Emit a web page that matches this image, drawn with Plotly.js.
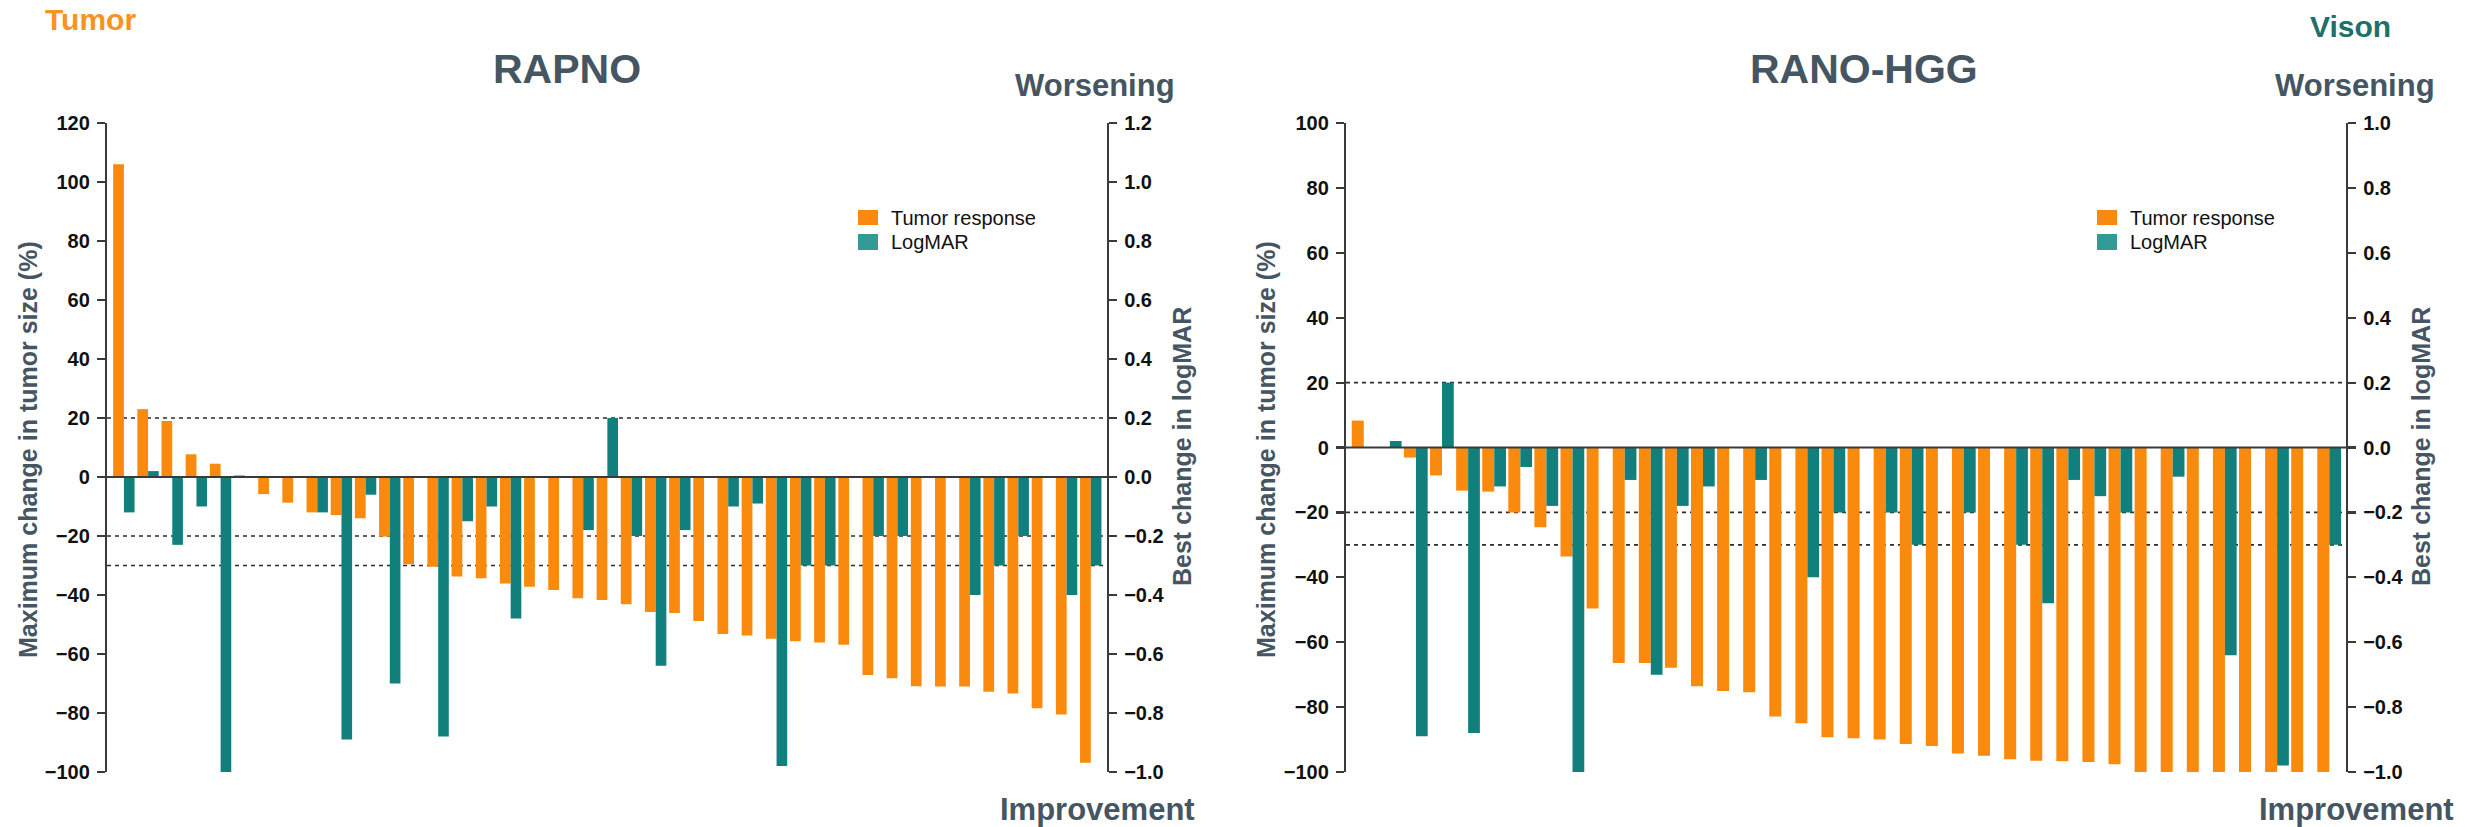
<!DOCTYPE html>
<html>
<head>
<meta charset="utf-8">
<script src="https://cdn.plot.ly/plotly-3.0.1.min.js"></script>
<style>
  html, body { margin: 0; padding: 0; background: #ffffff; }
  #chart { width: 2476px; height: 827px; }
</style>
</head>
<body>
<div id="chart"></div>
<script>
// ---------------- DATA ----------------
// RAPNO panel: maximum change in tumor size (%) and best change in logMAR, per patient
const rapnoTumor = [106, 23, 19, 7.7, 4.5, 0.6, -5.8, -8.7, -12, -12.9, -14, -20.2, -29.6, -30.4, -33.7,
  -34.3, -36.1, -37.2, -38.3, -41.1, -41.7, -43.1, -45.8, -46.1, -48.8, -53.2, -53.7, -54.8, -55.7,
  -56.1, -56.9, -67.1, -68.2, -70.9, -71, -71, -72.8, -73.4, -78.4, -80.5, -96.9];
const rapnoLogMAR = [-0.12, 0.02, -0.23, -0.10, -1.0, 0, 0, 0, -0.12, -0.89, -0.06, -0.70, 0, -0.88, -0.15,
  -0.10, -0.48, 0, 0, -0.18, 0.20, -0.20, -0.64, -0.18, 0, -0.10, -0.09, -0.98, -0.30,
  -0.30, 0, -0.20, -0.20, 0, 0, -0.40, -0.30, -0.20, 0, -0.40, -0.30];

// RANO-HGG panel
const ranoTumor = [8.3, 0, -3.1, -8.6, -13.3, -13.6, -20, -24.6, -33.6, -49.6, -66.4, -66.4, -67.9, -73.6,
  -75, -75.4, -82.9, -85, -89.3, -89.6, -90, -91.4, -92, -94.3, -95, -96.1, -96.5, -96.7, -96.9,
  -97.6, -100, -100, -100, -100, -100, -100, -100, -100];
const ranoLogMAR = [0, 0.02, -0.89, 0.20, -0.88, -0.12, -0.06, -0.18, -1.0, 0, -0.10, -0.70, -0.18, -0.12,
  0, -0.10, 0, -0.40, -0.20, 0, -0.20, -0.30, 0, -0.20, 0, -0.30, -0.48, -0.10, -0.15,
  -0.20, 0, -0.09, 0, -0.64, 0, -0.98, 0, -0.30];

// threshold reference lines (tumor %)
const thresholds = [20, -20, -30];

// tick values
const rapnoTicks = [120, 100, 80, 60, 40, 20, 0, -20, -40, -60, -80, -100];
const rapnoTicks2 = [1.2, 1.0, 0.8, 0.6, 0.4, 0.2, 0.0, -0.2, -0.4, -0.6, -0.8, -1.0];
const ranoTicks = [100, 80, 60, 40, 20, 0, -20, -40, -60, -80, -100];
const ranoTicks2 = [1.0, 0.8, 0.6, 0.4, 0.2, 0.0, -0.2, -0.4, -0.6, -0.8, -1.0];

const seriesNames = ["Tumor response", "LogMAR"];
const panelTitles = ["RAPNO", "RANO-HGG"];

// ---------------- STYLE ----------------
const W = 2476, H = 827;
const px = v => v / W;
const py = v => 1 - v / H;
const ORANGE = "#FA8A0D";
const TEAL = "#11807D";
const TEAL_LEG = "#339A96";
const SLATE = "#455562";
const AXC = "#3a3a3a";
const FONT = "Liberation Sans, Arial, Helvetica, sans-serif";

const rapnoX = rapnoTumor.map((_, i) => i);
const ranoX = ranoTumor.map((_, i) => i);

const traces = [
  { type: "bar", x: rapnoX, y: rapnoTumor, xaxis: "x", yaxis: "y", name: seriesNames[0],
    marker: { color: ORANGE }, width: 0.445, offset: -0.445, showlegend: false, hoverinfo: "y" },
  { type: "bar", x: rapnoX, y: rapnoLogMAR, xaxis: "x", yaxis: "y2", name: seriesNames[1],
    marker: { color: TEAL }, width: 0.44, offset: 0, showlegend: false, hoverinfo: "y" },
  { type: "bar", x: ranoX, y: ranoTumor, xaxis: "x2", yaxis: "y3", name: seriesNames[0],
    marker: { color: ORANGE }, width: 0.46, offset: -0.46, showlegend: false, hoverinfo: "y" },
  { type: "bar", x: ranoX, y: ranoLogMAR, xaxis: "x2", yaxis: "y4", name: seriesNames[1],
    marker: { color: TEAL }, width: 0.45, offset: 0, showlegend: false, hoverinfo: "y" }
];

const yDomain = [py(772), py(123)];
const baseY = {
  showgrid: false, zeroline: false, showline: true, linecolor: AXC, linewidth: 2.2,
  ticks: "outside", ticklen: 8, tickwidth: 2.2, tickcolor: AXC,
  tickfont: { family: FONT, size: 20, color: "#111", weight: "bold" },
  ticklabelstandoff: 3, domain: yDomain, fixedrange: true
};

const layout = {
  width: W, height: H,
  margin: { l: 0, r: 0, t: 0, b: 0 },
  paper_bgcolor: "#fff", plot_bgcolor: "rgba(0,0,0,0)",
  barmode: "overlay",
  showlegend: false,
  font: { family: FONT },
  xaxis: { domain: [px(107), px(1107)], range: [-0.7, rapnoTumor.length - 1 + 0.67], visible: false, fixedrange: true },
  xaxis2: { domain: [px(1346), px(2346)], range: [-0.68, ranoTumor.length - 1 + 0.64], visible: false, fixedrange: true },
  yaxis: Object.assign({}, baseY, { anchor: "x", side: "left", range: [-100, 120], tickvals: rapnoTicks }),
  yaxis2: Object.assign({}, baseY, { anchor: "x", side: "right", overlaying: "y", range: [-1.0, 1.2],
    tickvals: rapnoTicks2, tickformat: ".1f" }),
  yaxis3: Object.assign({}, baseY, { anchor: "x2", side: "left", range: [-100, 100], tickvals: ranoTicks }),
  yaxis4: Object.assign({}, baseY, { anchor: "x2", side: "right", overlaying: "y3", range: [-1.0, 1.0],
    tickvals: ranoTicks2, tickformat: ".1f" }),
  shapes: [],
  annotations: []
};

// reference lines (dashed) and zero lines
[["x", "y"], ["x2", "y3"]].forEach(([xa, ya]) => {
  thresholds.forEach(t => {
    layout.shapes.push({ type: "line", xref: xa + " domain", yref: ya, x0: 0, x1: 1, y0: t, y1: t,
      layer: "below", line: { color: "#2b2b2b", width: 1.6, dash: "4px,4px" } });
  });
  layout.shapes.push({ type: "line", xref: xa + " domain", yref: ya, x0: 0, x1: 1, y0: 0, y1: 0,
    layer: "above", line: { color: AXC, width: 2.2 } });
});

// manual legends
function addLegend(sqLeft) {
  const rows = [[210, 225, ORANGE, 217.5], [234, 250, TEAL_LEG, 242]];
  rows.forEach((r, i) => {
    layout.shapes.push({ type: "rect", xref: "paper", yref: "paper", x0: px(sqLeft), x1: px(sqLeft + 20),
      y0: py(r[1]), y1: py(r[0]), fillcolor: r[2], line: { width: 0 } });
    layout.annotations.push({ xref: "paper", yref: "paper", x: px(sqLeft + 31), y: py(r[3]),
      xanchor: "left", yanchor: "middle", showarrow: false, text: seriesNames[i],
      font: { family: FONT, size: 20, color: "#111" } });
  });
}
addLegend(858);
addLegend(2097);

function txt(text, x, y, size, color, angle) {
  layout.annotations.push({ xref: "paper", yref: "paper", x: px(x), y: py(y), xanchor: "center",
    yanchor: "middle", showarrow: false, text: text, textangle: angle || 0,
    font: { family: FONT, size: size, color: color, weight: "bold" } });
}
txt("Tumor", 90.5, 20, 30, "#F7931E");
txt("Vison", 2350, 27, 30, "#216F6A");
txt(panelTitles[0], 567, 69, 41, SLATE);
txt(panelTitles[1], 1864, 69, 41, SLATE);
txt("Worsening", 1095, 85, 31, SLATE);
txt("Worsening", 2355, 85, 31, SLATE);
txt("Improvement", 1097, 809, 31, SLATE);
txt("Improvement", 2356, 809, 31, SLATE);
txt("Maximum change in tumor size (%)", 28, 450, 25, SLATE, -90);
txt("Best change in logMAR", 1182, 447, 25, SLATE, -90);
txt("Maximum change in tumor size (%)", 1266, 450, 25, SLATE, -90);
txt("Best change in logMAR", 2421, 447, 25, SLATE, -90);

Plotly.newPlot("chart", traces, layout, { staticPlot: true, displayModeBar: false });
</script>
</body>
</html>
